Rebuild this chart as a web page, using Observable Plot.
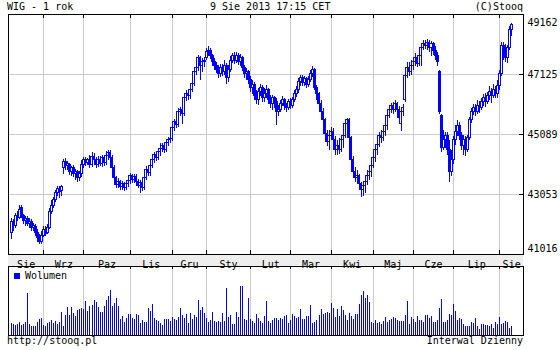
<!DOCTYPE html>
<html><head><meta charset="utf-8">
<script src="https://cdn.jsdelivr.net/npm/d3@7"></script>
<script src="https://cdn.jsdelivr.net/npm/@observablehq/plot@0.6"></script>
<style>
body{margin:0;background:#fff;}
#wrap{position:relative;width:560px;height:350px;background:#fff;font-family:"DejaVu Sans Mono",monospace;font-size:10px;color:#000;overflow:hidden}
.t{position:absolute;line-height:12px;white-space:pre}
</style></head><body>
<div id="wrap">
 <div class="t" style="left:7px;top:1px">WIG - 1 rok</div>
 <div class="t" style="left:210px;top:1px">9 Sie 2013 17:15 CET</div>
 <div class="t" style="right:37px;top:1px">(C)Stooq</div>
 <div style="position:absolute;left:8px;top:254px;width:515px;height:12px;background:#eeeeee"></div>
 <div id="price" style="position:absolute;left:0;top:0"></div>
 <div id="vol" style="position:absolute;left:0;top:254px"></div>
 <div style="position:absolute;left:14px;top:273px;width:6px;height:6px;background:#0000ff"></div>
 <div class="t" style="left:25px;top:270px">Wolumen</div>
 <div class="t" style="left:7px;top:335px">http://stooq.pl</div>
 <div class="t" style="right:37px;top:335px">Interwal Dzienny</div>
</div>
<script>
// Tick labels
const priceTicks = [41016, 43053, 45089, 47125, 49162];
const monthLabels = ["Sie","Wrz","Paz","Lis","Gru","Sty","Lut","Mar","Kwi","Maj","Cze","Lip","Sie"];
// trading-day index of first session of each month (Wrz 2012 ... Sie 2013)
const monthStarts = [16, 36, 59, 80, 97, 119, 139, 159, 180, 200, 220, 243];

// Daily WIG sessions 2012-08-09 .. 2013-08-09
const opens = [
41740,42120,41980,42320,42250,42590,42320,42150,42220,42050,
42120,41910,41950,41740,41580,41440,41640,41810,41740,41910,
42460,42660,42860,43100,43240,43170,43950,44150,44010,44050,
43810,43950,43740,43810,43610,43740,44050,44220,44120,44220,
44050,44320,44220,44050,44220,44080,44290,44120,44350,44450,
44290,43950,43610,43370,43470,43300,43400,43270,43400,43510,
43680,43540,43640,43470,43340,43440,43270,43610,43880,43780,
44010,44220,44390,44290,44490,44590,44690,44560,44790,44890,
44930,45300,45500,45400,45840,45910,45780,46320,46450,46390,
46590,46790,47200,47330,47670,47400,47540,47670,47880,47940,
47740,47540,47400,47270,47130,47330,47200,47400,46990,47270,
47600,47740,47600,47770,47540,47670,47330,47130,47200,46930,
46660,46760,46390,46250,46520,46660,46320,46450,46590,46250,
46110,46320,46180,45840,45910,46110,46250,46050,45980,46180,
46050,46250,46450,46590,46860,46990,46830,46960,46760,46930,
47130,47270,46660,46450,46110,45840,45570,45100,44830,45030,
45170,44890,44560,44690,44560,44890,45030,45440,45570,44960,
44220,43810,43610,43680,43400,43200,43340,43470,43680,43810,
44010,44290,44560,44730,45030,44960,45170,45370,45710,45910,
46050,45910,46110,45910,45440,45840,46250,47060,47330,47200,
47400,47540,47670,47470,47740,48010,48150,48080,48210,48010,
48150,47940,47740,47200,45710,44620,44890,45030,44560,43810,
44220,44890,45170,45370,45030,44690,44890,44560,44960,45570,
45840,45980,45840,46050,45980,46180,46320,46180,46390,46520,
46390,46590,46450,46720,47130,48080,47940,47670,48010,48620];
const highs = [
42250,42220,42420,42460,42690,42690,42390,42320,42290,42250,
42190,42080,42050,41850,41710,41780,41950,41980,42020,42590,
42860,42960,43200,43340,43340,43370,44250,44290,44180,44120,
44010,44050,43910,43880,43850,44220,44320,44320,44290,44390,
44490,44450,44320,44350,44350,44390,44390,44520,44560,44560,
44390,44050,43680,43610,43540,43510,43470,43510,43610,43780,
43740,43740,43740,43570,43540,43510,43710,44010,44050,44120,
44350,44490,44490,44620,44790,44790,44790,44890,45000,45030,
45500,45610,45640,45980,46010,46050,46420,46590,46590,46720,
46930,47330,47540,47770,47740,47670,47710,48010,48080,48010,
47810,47670,47540,47430,47470,47470,47600,47500,47430,47740,
47840,47880,47880,47840,47810,47740,47430,47330,47270,47060,
46930,46860,46590,46660,46790,46760,46660,46760,46660,46420,
46420,46390,46320,46080,46250,46390,46320,46150,46280,46320,
46350,46590,46720,46990,47100,47100,47060,47030,47060,47270,
47400,47330,46760,46520,46250,45980,45640,45230,45230,45340,
45300,45030,44890,44960,45060,45230,45570,45640,45640,45030,
44350,43980,43880,43740,43470,43470,43610,43880,43950,44150,
44490,44690,44890,45170,45230,45300,45500,45810,46050,46150,
46180,46250,46180,46050,45910,46110,47160,47540,47540,47600,
47670,47840,47770,47880,48110,48280,48280,48320,48280,48250,
48210,48080,47880,47270,45780,45230,45170,45170,44890,44560,
45030,45400,45570,45500,45170,45060,45030,45060,45670,45980,
46110,46110,46250,46220,46320,46450,46490,46520,46720,46660,
46790,46720,46930,47270,48210,48210,48150,48110,48760,48860];
const lows = [
41510,41780,41910,42120,42190,42250,42050,41980,41950,41910,
41810,41780,41640,41440,41340,41370,41580,41640,41680,41850,
42390,42590,42790,43000,42930,43000,43740,43880,43880,43710,
43680,43640,43540,43470,43510,43640,43950,44010,44050,43950,
43980,44120,43950,43980,44010,43980,44010,44050,44220,44180,
43810,43510,43270,43240,43200,43200,43170,43200,43300,43400,
43440,43440,43370,43240,43100,43170,43200,43540,43680,43680,
43950,44120,44180,44220,44350,44490,44450,44490,44690,44790,
44860,45200,45300,45340,45710,45440,45710,46220,46250,46280,
46520,46720,47100,47230,46930,47200,47370,47600,47740,47640,
47400,47270,47160,46990,47030,47060,47100,46790,46860,47200,
47500,47470,47500,47430,47400,47230,46990,46930,46790,46520,
46450,46250,46110,46080,46390,46180,46180,46320,46110,45980,
45910,45980,45400,45710,45840,46050,45910,45840,45910,45940,
45980,46180,46350,46490,46720,46720,46720,46660,46690,46860,
47030,46590,46250,45980,45710,45440,44960,44690,44560,44890,
44760,44390,44390,44420,44490,44620,44960,45230,44830,44080,
43640,43470,43400,43300,42960,43000,43070,43370,43540,43640,
43950,44150,44390,44660,44790,44860,45030,45230,45640,45810,
45780,45840,45780,45500,45200,45710,46180,46990,47060,47100,
47270,47400,47370,47400,47400,47940,47980,47940,47880,47740,
47770,47600,47400,45780,44490,44560,44620,44390,43470,43680,
44080,44730,45030,44890,44560,44390,44350,44490,44890,45470,
45740,45710,45780,45810,45910,46050,46010,46110,46250,46150,
46320,46320,46320,46590,47060,47600,47540,47500,47940,48420];
const closes = [
42120,41980,42320,42250,42520,42320,42150,42220,42050,42120,
41910,41980,41740,41580,41440,41640,41850,41710,41910,42460,
42660,42860,43100,43240,43130,43300,44150,44010,44080,43810,
43950,43740,43810,43610,43740,44050,44220,44120,44220,44050,
44320,44220,44050,44220,44080,44290,44120,44350,44450,44290,
43950,43610,43370,43470,43300,43400,43270,43400,43510,43680,
43540,43640,43470,43340,43440,43270,43610,43880,43780,44010,
44220,44390,44290,44490,44590,44690,44560,44790,44890,44930,
45300,45500,45400,45840,45910,45780,46320,46450,46390,46590,
46790,47200,47330,47670,47400,47540,47600,47880,47940,47740,
47540,47400,47270,47130,47330,47200,47400,46990,47270,47600,
47740,47600,47770,47540,47670,47330,47130,47200,46930,46660,
46760,46390,46250,46520,46660,46320,46450,46590,46250,46110,
46320,46180,45840,45910,46110,46250,46050,45980,46180,46050,
46250,46450,46590,46860,46990,46830,46960,46760,46930,47130,
47270,46660,46450,46110,45840,45570,45100,44830,45030,45170,
44890,44560,44690,44560,44890,45030,45440,45570,44960,44220,
43810,43610,43680,43400,43200,43340,43470,43680,43810,44010,
44290,44560,44730,45030,44960,45170,45370,45710,45910,46050,
45910,46110,45910,45640,45840,45980,47060,47330,47200,47400,
47540,47670,47470,47740,48010,48150,48080,48210,48010,48150,
47940,47740,47540,45840,44620,44890,45030,44560,43810,44220,
44890,45170,45370,45030,44690,44890,44560,44960,45570,45840,
45980,45840,46050,45980,46180,46320,46180,46390,46520,46390,
46590,46450,46720,47130,48080,47940,47670,48010,48620,48790];
// Turnover (mln PLN)
const volumes = [
245,215,200,215,260,195,215,260,845,225,
180,180,180,260,315,335,200,180,245,260,
295,245,280,225,260,460,180,400,560,400,
560,445,380,495,515,535,525,680,480,580,
600,700,660,560,465,460,580,695,780,900,
580,645,745,580,315,380,265,345,415,415,
345,315,425,395,245,295,260,260,545,480,
615,345,295,280,245,200,315,315,325,280,
365,315,295,365,545,400,335,425,245,445,
315,400,365,695,500,560,445,335,265,295,
465,280,265,280,265,445,280,945,365,395,
215,225,465,365,980,980,315,295,740,315,
280,245,425,345,280,245,380,680,280,245,
295,345,335,
295,335,315,380,400,245,295,425,380,335,
365,525,315,325,380,380,600,245,265,295,
400,515,415,445,460,445,645,535,365,515,
380,580,495,400,295,445,380,315,425,415,
615,795,880,745,795,660,260,245,295,245,
260,225,280,365,260,295,315,365,345,295,
280,280,280,400,680,225,365,315,260,380,
295,295,260,395,400,335,380,260,260,295,
545,715,265,265,295,415,395,615,480,295,
335,315,225,180,180,180,260,245,335,180,
125,215,215,195,200,180,215,145,260,225,
365,215,245,280,260,145,180];

const BLUE = "#0000ff", GRID = "#cccccc";
const xDomain = [-1.57, 254.8];
const rows = opens.map((o, i) => ({i, o, h: highs[i], l: lows[i], c: closes[i], v: volumes[i]}));
const bounds = [xDomain[0], ...monthStarts, xDomain[1]];
const monthMarks = monthLabels.map((label, k) => ({x: (bounds[k] + bounds[k + 1]) / 2, label}));
const style = {background: "transparent", fontFamily: "'DejaVu Sans Mono', monospace", fontSize: "10px", color: "black", overflow: "visible"};
const crisp = {shapeRendering: "crispEdges"};

const price = Plot.plot({
  width: 560, height: 266,
  marginTop: 14, marginBottom: 12, marginLeft: 8, marginRight: 37,
  x: {domain: xDomain, axis: null},
  y: {domain: [priceTicks[0], priceTicks[priceTicks.length - 1]], axis: null},
  color: {type: "identity"},
  style,
  marks: [
    Plot.ruleX(monthStarts, {x: d => d, stroke: GRID, ...crisp}),
    Plot.ruleY(priceTicks, {y: d => d, stroke: GRID, ...crisp}),
    Plot.tickX(monthStarts, {x: d => d, stroke: "black", insetTop: 236, ...crisp}),
    Plot.tickX(monthStarts, {x: d => d, stroke: "black", insetBottom: 236, ...crisp}),
    Plot.tickY(priceTicks, {y: d => d, stroke: "black", insetLeft: 511, ...crisp}),
    Plot.ruleX(rows, {x: "i", y1: "l", y2: "h", stroke: BLUE, ...crisp}),
    Plot.rect(rows, {x1: d => d.i - 0.5, x2: d => d.i + 0.5, y1: "o", y2: "c",
      fill: d => d.c >= d.o ? "#ffffff" : BLUE, stroke: BLUE, ...crisp}),
    Plot.frame({stroke: "black", ...crisp}),
    Plot.text(priceTicks.slice(1, -1), {y: d => d, text: d => String(d), frameAnchor: "right", textAnchor: "start", dx: 4}),
    Plot.text(priceTicks.slice(-1), {y: d => d, text: d => String(d), frameAnchor: "right", textAnchor: "start", dx: 4, dy: 8}),
    Plot.text(priceTicks.slice(0, 1), {y: d => d, text: d => String(d), frameAnchor: "right", textAnchor: "start", dx: 4, dy: -6})
  ]
});
document.getElementById("price").append(price);

const vol = Plot.plot({
  width: 560, height: 96,
  marginTop: 12, marginBottom: 15, marginLeft: 8, marginRight: 37,
  x: {domain: xDomain, axis: null},
  y: {domain: [0, 1380], axis: null},
  style,
  marks: [
    Plot.ruleX(monthStarts, {x: d => d, stroke: GRID, ...crisp}),
    Plot.tickX(monthStarts, {x: d => d, stroke: "black", insetBottom: 66, ...crisp}),
    Plot.ruleX(rows, {x: "i", y1: 0, y2: "v", stroke: BLUE, ...crisp}),
    Plot.frame({stroke: "black", ...crisp}),
    Plot.text(monthMarks, {x: "x", text: "label", frameAnchor: "top", dy: -6})
  ]
});
document.getElementById("vol").append(vol);
</script>
</body></html>
